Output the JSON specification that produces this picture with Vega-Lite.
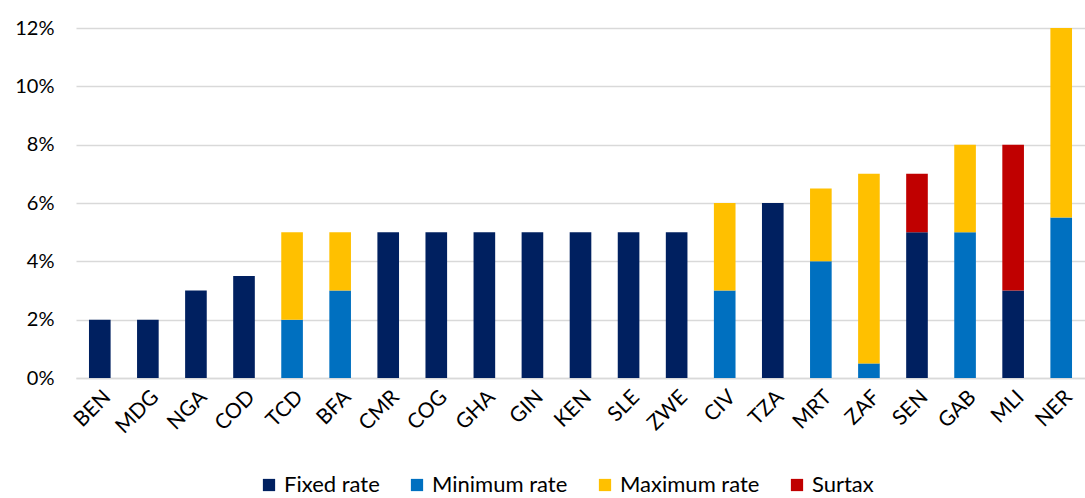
{
  "$schema": "https://vega.github.io/schema/vega-lite/v6.json",
  "width": 1009,
  "height": 350,
  "autosize": {"type": "none"},
  "padding": {"left": 76, "top": 28, "right": 0, "bottom": 120},
  "background": "white",
  "config": {
    "view": {"stroke": null},
    "font": "Lato"
  },
  "data": {
    "values": [
      {"country": "BEN", "type": "Fixed rate", "value": 0.02},
      {"country": "MDG", "type": "Fixed rate", "value": 0.02},
      {"country": "NGA", "type": "Fixed rate", "value": 0.03},
      {"country": "COD", "type": "Fixed rate", "value": 0.035},
      {"country": "TCD", "type": "Minimum rate", "value": 0.02},
      {"country": "TCD", "type": "Maximum rate", "value": 0.03},
      {"country": "BFA", "type": "Minimum rate", "value": 0.03},
      {"country": "BFA", "type": "Maximum rate", "value": 0.02},
      {"country": "CMR", "type": "Fixed rate", "value": 0.05},
      {"country": "COG", "type": "Fixed rate", "value": 0.05},
      {"country": "GHA", "type": "Fixed rate", "value": 0.05},
      {"country": "GIN", "type": "Fixed rate", "value": 0.05},
      {"country": "KEN", "type": "Fixed rate", "value": 0.05},
      {"country": "SLE", "type": "Fixed rate", "value": 0.05},
      {"country": "ZWE", "type": "Fixed rate", "value": 0.05},
      {"country": "CIV", "type": "Minimum rate", "value": 0.03},
      {"country": "CIV", "type": "Maximum rate", "value": 0.03},
      {"country": "TZA", "type": "Fixed rate", "value": 0.06},
      {"country": "MRT", "type": "Minimum rate", "value": 0.04},
      {"country": "MRT", "type": "Maximum rate", "value": 0.025},
      {"country": "ZAF", "type": "Minimum rate", "value": 0.005},
      {"country": "ZAF", "type": "Maximum rate", "value": 0.065},
      {"country": "SEN", "type": "Fixed rate", "value": 0.05},
      {"country": "SEN", "type": "Surtax", "value": 0.02},
      {"country": "GAB", "type": "Minimum rate", "value": 0.05},
      {"country": "GAB", "type": "Maximum rate", "value": 0.03},
      {"country": "MLI", "type": "Fixed rate", "value": 0.03},
      {"country": "MLI", "type": "Surtax", "value": 0.05},
      {"country": "NER", "type": "Minimum rate", "value": 0.055},
      {"country": "NER", "type": "Maximum rate", "value": 0.065}
    ]
  },
  "transform": [
    {"calculate": "indexof(['Fixed rate','Minimum rate','Maximum rate','Surtax'], datum.type)", "as": "stackOrder"}
  ],
  "mark": {"type": "bar"},
  "encoding": {
    "x": {
      "field": "country",
      "type": "nominal",
      "sort": null,
      "scale": {"paddingInner": 0.55, "paddingOuter": 0.27},
      "axis": {
        "title": null,
        "labelAngle": -45,
        "labelAlign": "right",
        "labelBaseline": "top",
        "labelFontSize": 21,
        "labelColor": "#000000",
        "labelPadding": 8,
        "ticks": false,
        "domainColor": "#D9D9D9",
        "domainWidth": 1.5
      }
    },
    "y": {
      "field": "value",
      "type": "quantitative",
      "stack": "zero",
      "scale": {"domain": [0, 0.12], "nice": false},
      "axis": {
        "title": null,
        "format": ".0%",
        "values": [0, 0.02, 0.04, 0.06, 0.08, 0.1, 0.12],
        "labelFontSize": 20,
        "labelColor": "#000000",
        "labelPadding": 22,
        "ticks": false,
        "domain": false,
        "gridColor": "#D9D9D9",
        "gridWidth": 1.5
      }
    },
    "order": {"field": "stackOrder", "type": "quantitative", "sort": "ascending"},
    "color": {
      "field": "type",
      "type": "nominal",
      "sort": ["Fixed rate", "Minimum rate", "Maximum rate", "Surtax"],
      "scale": {
        "domain": ["Fixed rate", "Minimum rate", "Maximum rate", "Surtax"],
        "range": ["#002060", "#0070C0", "#FFC000", "#C00000"]
      },
      "legend": {
        "title": null,
        "orient": "none",
        "direction": "horizontal",
        "legendX": 182,
        "legendY": 446,
        "symbolType": "square",
        "symbolSize": 150,
        "symbolStrokeWidth": 0,
        "symbolOpacity": 1,
        "labelFontSize": 22,
        "labelColor": "#000000",
        "columnPadding": 26,
        "labelOffset": 4
      }
    }
  }
}
